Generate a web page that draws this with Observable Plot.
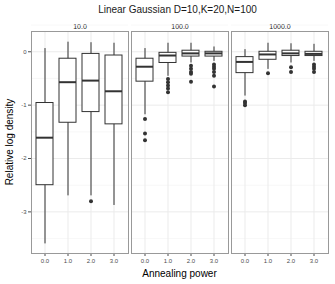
<!DOCTYPE html>
<html>
<head>
<meta charset="utf-8">
<script src="https://cdn.jsdelivr.net/npm/d3@7"></script>
<script src="https://cdn.jsdelivr.net/npm/@observablehq/plot@0.6"></script>
<style>
  body { margin: 0; background: #fff; font-family: "Liberation Sans", Arial, sans-serif; }
  #title { height: 18px; line-height: 20px; font-size: 10px; text-align: center; color: #1a1a1a; width: 335px; padding-left: 20px; box-sizing: border-box; }
</style>
</head>
<body>
<div id="title">Linear Gaussian D=10,K=20,N=100</div>
<div id="chart"></div>
<script>
const facets = ["10.0", "100.0", "1000.0"];
const powers = ["0.0", "1.0", "2.0", "3.0"];
// summary per facet (facet-major order, powers 0..3)
const boxFacet = ["10.0","10.0","10.0","10.0","100.0","100.0","100.0","100.0","1000.0","1000.0","1000.0","1000.0"];
const boxPower = ["0.0","1.0","2.0","3.0","0.0","1.0","2.0","3.0","0.0","1.0","2.0","3.0"];
const whiskerLow  = [-3.6, -2.7, -2.7, -2.88, -1.18, -0.46, -0.21, -0.18, -0.83, -0.33, -0.21, -0.18];
const q1          = [-2.5, -1.33, -1.13, -1.36, -0.56, -0.21, -0.09, -0.09, -0.40, -0.15, -0.08, -0.08];
const median      = [-1.61, -0.57, -0.54, -0.74, -0.28, -0.07, -0.03, -0.03, -0.19, -0.05, -0.03, -0.04];
const q3          = [-0.96, -0.13, -0.04, -0.07, -0.13, -0.02, 0.02, 0.0, -0.10, 0.0, 0.02, 0.0];
const whiskerHigh = [0.06, 0.18, 0.17, 0.16, 0.06, 0.16, 0.16, 0.09, 0.04, 0.16, 0.15, 0.14];

const outFacet = ["10.0",
  "100.0","100.0","100.0",
  "100.0","100.0","100.0","100.0","100.0",
  "100.0","100.0","100.0","100.0","100.0",
  "100.0","100.0","100.0","100.0","100.0","100.0",
  "1000.0","1000.0","1000.0",
  "1000.0",
  "1000.0","1000.0",
  "1000.0","1000.0","1000.0","1000.0"];
const outPower = ["2.0",
  "0.0","0.0","0.0",
  "1.0","1.0","1.0","1.0","1.0",
  "2.0","2.0","2.0","2.0","2.0",
  "3.0","3.0","3.0","3.0","3.0","3.0",
  "0.0","0.0","0.0",
  "1.0",
  "2.0","2.0",
  "3.0","3.0","3.0","3.0"];
const outValue = [-2.8,
  -1.26, -1.53, -1.66,
  -0.51, -0.57, -0.63, -0.69, -0.76,
  -0.26, -0.32, -0.38, -0.41, -0.56,
  -0.24, -0.28, -0.32, -0.38, -0.45, -0.65,
  -0.93, -0.96, -1.0,
  -0.4,
  -0.29, -0.38,
  -0.24, -0.28, -0.32, -0.38];

const yMajor = [0, -1, -2, -3];
const yMinor = [0.5, -0.5, -1.5, -2.5, -3.5];

const boxes = boxFacet.map((f, i) => ({
  facet: f, power: boxPower[i], lo: whiskerLow[i], q1: q1[i], med: median[i], q3: q3[i], hi: whiskerHigh[i]
}));
const outliers = outFacet.map((f, i) => ({facet: f, power: outPower[i], value: outValue[i]}));

const W = 335, H = 266;
const chart = Plot.plot({
  width: W,
  height: H,
  marginLeft: 30,
  marginRight: 6,
  marginTop: 13,
  marginBottom: 31,
  style: {fontFamily: "Liberation Sans, Arial, sans-serif", fontSize: "6px", color: "#4d4d4d", background: "#fff"},
  fx: {domain: facets, paddingInner: 0.035, paddingOuter: 0, label: null, axis: "top", tickSize: 0, tickPadding: 3},
  x: {domain: powers, paddingInner: 0.25, paddingOuter: 0.225, label: null, tickSize: 3, tickPadding: 2},
  y: {domain: [-3.78, 0.38], label: null, ticks: yMajor, tickFormat: d => String(d), tickSize: 3, tickPadding: 2},
  marks: [
    Plot.ruleY(yMinor, {stroke: "#f2f2f2", strokeWidth: 0.6}),
    Plot.ruleY(yMajor, {stroke: "#ebebeb", strokeWidth: 1}),
    Plot.ruleX(powers, {x: d => d, stroke: "#ebebeb", strokeWidth: 1}),
    Plot.ruleX(boxes, {fx: "facet", x: "power", y1: "lo", y2: "hi", stroke: "#333", strokeWidth: 1}),
    Plot.barY(boxes, {fx: "facet", x: "power", y1: "q1", y2: "q3", fill: "#fff", stroke: "#333", strokeWidth: 1, inset: 0}),
    Plot.tickY(boxes, {fx: "facet", x: "power", y: "med", stroke: "#333", strokeWidth: 2}),
    Plot.dot(outliers, {fx: "facet", x: "power", y: "value", r: 2, fill: "#333", stroke: null}),
    Plot.frame({stroke: "#999", strokeWidth: 1})
  ]
});

const svg = d3.select(chart);
// facet labels darker and slightly bigger
svg.selectAll("[aria-label='fx-axis tick label'] text, [aria-label='fx-axis tick label']").style("font-size", "7px").attr("fill", "#1a1a1a");
// axis titles
svg.append("text")
  .attr("transform", `translate(10, ${13 + (H - 13 - 31) / 2}) rotate(-90)`)
  .attr("text-anchor", "middle")
  .attr("dominant-baseline", "middle")
  .attr("font-size", "10px")
  .attr("fill", "#000")
  .text("Relative log density");
svg.append("text")
  .attr("x", 30 + (W - 30 - 6) / 2)
  .attr("y", H - 7)
  .attr("text-anchor", "middle")
  .attr("font-size", "10px")
  .attr("fill", "#000")
  .text("Annealing power");
document.getElementById("chart").appendChild(chart);
</script>
</body>
</html>
